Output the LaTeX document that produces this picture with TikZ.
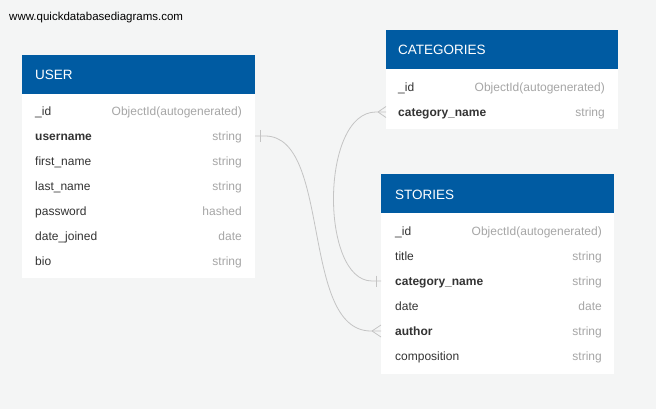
\documentclass[tikz,border=0pt]{standalone}
\usepackage{fontspec}
\setmainfont{Liberation Sans}
\definecolor{bg}{HTML}{F4F5F5}
\definecolor{hdr}{HTML}{005BA2}
\definecolor{txt}{HTML}{333333}
\definecolor{typ}{HTML}{A6A6A6}
\definecolor{lnk}{HTML}{C4C4C4}
\begin{document}
\begin{tikzpicture}[x=1pt,y=-1pt,
  rowtext/.style={anchor=base west,inner sep=0pt,text=txt,font=\fontsize{12}{14}\selectfont,yshift=-4.6pt},
  keytext/.style={rowtext,font=\fontsize{12}{14}\selectfont\bfseries},
  typetext/.style={anchor=base east,inner sep=0pt,text=typ,font=\fontsize{12}{14}\selectfont,yshift=-4.6pt},
  headtext/.style={anchor=base west,inner sep=0pt,text=white,font=\fontsize{13.5}{14}\selectfont,yshift=-5pt},
  link/.style={draw=lnk,line width=0.8pt},
  tickline/.style={draw=lnk,line width=0.8pt}
]
\useasboundingbox (0,0) rectangle (656,409);
\fill[bg] (0,0) rectangle (656,409);
\node[anchor=base west,inner sep=0pt,font=\fontsize{11.5}{13}\selectfont,text=black,yshift=-4.2pt] (site) at (9,16) {www.quickdatabasediagrams.com};

% USER table
\fill[hdr] (22,55) rectangle (255,94);
\fill[white] (22,94) rectangle (255,278);
\node[headtext] (userh) at (35,75) {USER};
\node[rowtext] (u1) at (35,111) {\_id};
\node[typetext] (u1t) at (242,111) {ObjectId(autogenerated)};
\node[keytext] (u2) at (35,136) {username};
\node[typetext] (u2t) at (242,136) {string};
\node[rowtext] (u3) at (35,161) {first\_name};
\node[typetext] (u3t) at (242,161) {string};
\node[rowtext] (u4) at (35,186) {last\_name};
\node[typetext] (u4t) at (242,186) {string};
\node[rowtext] (u5) at (35,211) {password};
\node[typetext] (u5t) at (242,211) {hashed};
\node[rowtext] (u6) at (35,236) {date\_joined};
\node[typetext] (u6t) at (242,236) {date};
\node[rowtext] (u7) at (35,261) {bio};
\node[typetext] (u7t) at (242,261) {string};

% CATEGORIES table
\fill[hdr] (386,30) rectangle (618,69);
\fill[white] (386,69) rectangle (618,129);
\node[headtext] (cath) at (398,50) {CATEGORIES};
\node[rowtext] (c1) at (398,87) {\_id};
\node[typetext] (c1t) at (605,87) {ObjectId(autogenerated)};
\node[keytext] (c2) at (398,112) {category\_name};
\node[typetext] (c2t) at (605,112) {string};

% STORIES table
\fill[hdr] (381,174) rectangle (614,213);
\fill[white] (381,213) rectangle (614,374);
\node[headtext] (stoh) at (395,194) {STORIES};
\node[rowtext] (s1) at (395,231) {\_id};
\node[typetext] (s1t) at (602,231) {ObjectId(autogenerated)};
\node[rowtext] (s2) at (395,256) {title};
\node[typetext] (s2t) at (602,256) {string};
\node[keytext] (s3) at (395,281) {category\_name};
\node[typetext] (s3t) at (602,281) {string};
\node[rowtext] (s4) at (395,306) {date};
\node[typetext] (s4t) at (602,306) {date};
\node[keytext] (s5) at (395,331) {author};
\node[typetext] (s5t) at (602,331) {string};
\node[rowtext] (s6) at (395,356) {composition};
\node[typetext] (s6t) at (602,356) {string};

% anchor points on table edges
\coordinate (uA) at (255,136);
\coordinate (sAuthor) at (381,331);
\coordinate (cA) at (386,112);
\coordinate (sCat) at (381,281);

% connector USER.username -> STORIES.author
\draw[link] (uA) -- ++(10,0) .. controls (332,136) and (300,331) .. (371,331) -- (sAuthor);
\draw[tickline] (260,130) -- (260,142);
\draw[tickline] (372,331) -- (381,325);
\draw[tickline] (372,331) -- (381,337);

% connector CATEGORIES.category_name -> STORIES.category_name
\draw[link] (cA) -- ++(-10,0) .. controls (320,112) and (320,281) .. (372,281) -- (sCat);
\draw[tickline] (378,112) -- (386,106.5);
\draw[tickline] (378,112) -- (386,117.5);
\draw[tickline] (376,275.5) -- (376,286.5);
\end{tikzpicture}
\end{document}
